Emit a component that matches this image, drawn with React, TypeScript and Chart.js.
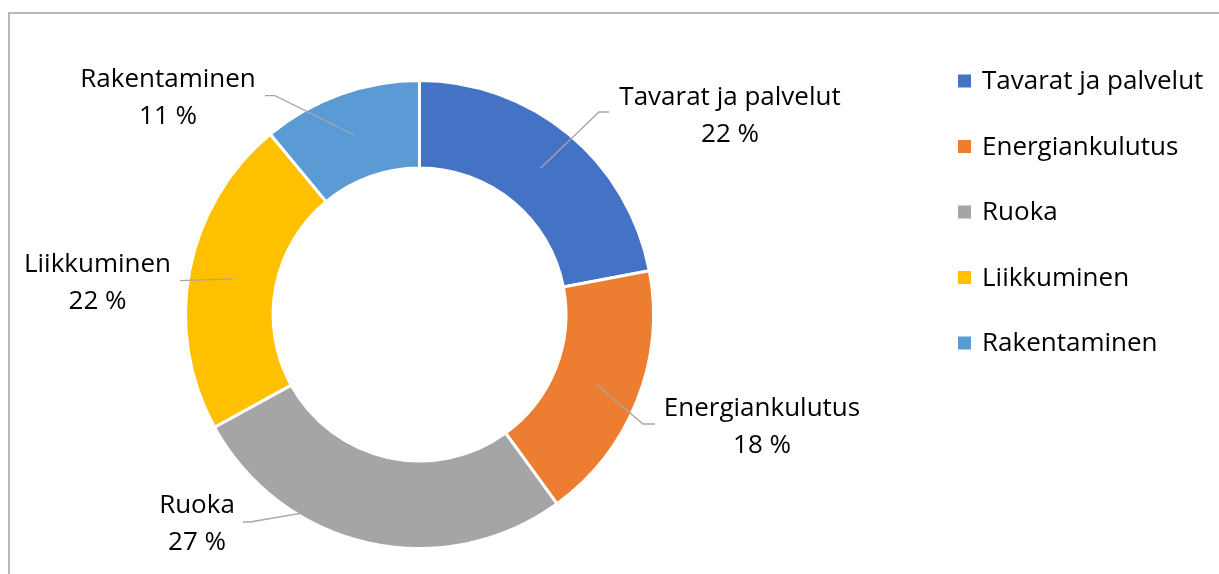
import { useEffect, useRef } from 'react';
import { Chart, registerables } from 'chart.js';

Chart.register(...registerables);

// ---- data ----
const categories = ['Tavarat ja palvelut', 'Energiankulutus', 'Ruoka', 'Liikkuminen', 'Rakentaminen'];
const shares = [22, 18, 27, 22, 11];
const colors = ['#4472C4', '#ED7D31', '#A5A5A5', '#FFC000', '#5B9BD5'];

// ---- layout (relative to the doughnut centre) ----
const labelLayout = [
  { tx: 310.5, ty: -209.5, elbow: [179.5, -202.5], end: [189.5, -202.5] },
  { tx: 342.5, ty: 101.5, elbow: [223.5, 109.5], end: [235.5, 109.5] },
  { tx: -222.5, ty: 198.5, elbow: [-169.5, 207.5], end: [-176.5, 207.5] },
  { tx: -322, ty: -42.5, elbow: [-239.5, -33.8], end: [-239.5, -33.8] },
  { tx: -251.5, ty: -227.2, elbow: [-144.5, -218.8], end: [-154.5, -218.8] },
];
const FONT_FAMILY = '"Open Sans", "Noto Sans", sans-serif';
const FONT_SIZE = 26;
const LINE_GAP = 36.7;

const labelPlugin = {
  id: 'outerLabels',
  afterDatasetsDraw(chart: any) {
    const ctx = chart.ctx as CanvasRenderingContext2D;
    const meta = chart.getDatasetMeta(0);
    const ds = chart.data.datasets[0];
    ctx.save();
    meta.data.forEach((arc: any, i: number) => {
      const p = arc.getProps(['x', 'y', 'startAngle', 'endAngle', 'innerRadius', 'outerRadius'], true);
      const a = (p.startAngle + p.endAngle) / 2;
      const r = (p.innerRadius + p.outerRadius) / 2;
      const sx = p.x + Math.cos(a) * r;
      const sy = p.y + Math.sin(a) * r;
      const L = labelLayout[i];
      ctx.strokeStyle = '#A6A6A6';
      ctx.lineWidth = 1.3;
      ctx.beginPath();
      ctx.moveTo(sx, sy);
      ctx.lineTo(p.x + L.elbow[0], p.y + L.elbow[1]);
      ctx.lineTo(p.x + L.end[0], p.y + L.end[1]);
      ctx.stroke();
      ctx.fillStyle = '#000000';
      ctx.font = `${FONT_SIZE}px ${FONT_FAMILY}`;
      ctx.textAlign = 'center';
      ctx.textBaseline = 'alphabetic';
      ctx.fillText(String(chart.data.labels[i]), p.x + L.tx, p.y + L.ty);
      ctx.fillText(`${ds.data[i]} %`, p.x + L.tx, p.y + L.ty + LINE_GAP);
    });
    ctx.restore();
  },
};

const legendPlugin = {
  id: 'sideLegend',
  afterDraw(chart: any) {
    const ctx = chart.ctx as CanvasRenderingContext2D;
    const ds = chart.data.datasets[0];
    ctx.save();
    ctx.font = `${FONT_SIZE}px ${FONT_FAMILY}`;
    ctx.textAlign = 'left';
    ctx.textBaseline = 'middle';
    chart.data.labels.forEach((lab: string, i: number) => {
      const cy = 81 + i * 65.5;
      ctx.fillStyle = ds.backgroundColor[i];
      ctx.fillRect(958, cy - 6.5, 13, 13);
      ctx.fillStyle = '#000000';
      ctx.fillText(lab, 982, cy + 1);
    });
    ctx.restore();
  },
};

export default function App() {
  const ref = useRef<HTMLCanvasElement | null>(null);
  useEffect(() => {
    document.body.style.overflow = 'hidden';
    const chart = new Chart(ref.current!, {
      type: 'doughnut',
      data: {
        labels: categories,
        datasets: [
          {
            data: shares,
            backgroundColor: colors,
            borderColor: '#ffffff',
            borderWidth: 3,
          },
        ],
      },
      options: {
        responsive: false,
        animation: false,
        devicePixelRatio: 1,
        radius: 234,
        cutout: '62.6%',
        layout: { padding: { left: 187, top: 82, right: 567, bottom: 27 } },
        plugins: {
          legend: { display: false },
          tooltip: { enabled: false },
        },
      },
      plugins: [labelPlugin, legendPlugin],
    });
    return () => chart.destroy();
  }, []);
  return (
    <>
      <div
        style={{
          position: 'fixed',
          left: 8,
          top: 12,
          right: -20,
          bottom: -20,
          border: '2px solid #b8b8b8',
        }}
      />
      <canvas
        ref={ref}
        width={1219}
        height={574}
        style={{ position: 'fixed', left: 0, top: 0, width: 1219, height: 574 }}
      />
    </>
  );
}
